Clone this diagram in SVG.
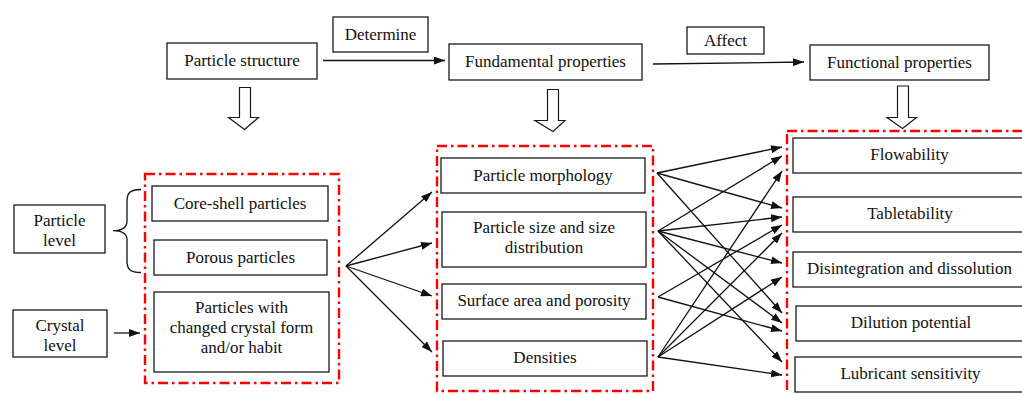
<svg xmlns="http://www.w3.org/2000/svg" width="1022" height="394" viewBox="0 0 1022 394">
<style>
.box{fill:#fff;stroke:#1a1a1a;stroke-width:1.3}
.grp{fill:none;stroke:#ff0000;stroke-width:2.4;stroke-dasharray:10 4 2.5 4}
.t{font-family:"Liberation Serif","Times New Roman",serif;font-size:17px;fill:#111;text-anchor:middle}
.c{stroke:#111;stroke-width:1.3;fill:none}
.ha{fill:#fff;stroke:#1a1a1a;stroke-width:1.2}
</style>
<defs>
<marker id="ah" markerWidth="11" markerHeight="8" refX="11" refY="4" orient="auto" markerUnits="userSpaceOnUse">
<path d="M0,0 L11,4 L0,8 z" fill="#111"/>
</marker>
</defs>
<rect width="1022" height="394" fill="#fff"/>

<g id="groups">
<rect class="grp" x="145" y="174" width="194" height="209"/>
<rect class="grp" x="437" y="146" width="216" height="245"/>
<rect class="grp" x="787" y="131" width="270" height="290"/>
</g>

<g id="n-particle-structure"><rect class="box" x="167" y="43" width="150" height="36"/><text class="t" x="242" y="66">Particle structure</text></g>
<g id="n-determine"><rect class="box" x="333" y="17" width="95" height="35"/><text class="t" x="380.5" y="40">Determine</text></g>
<g id="n-fundamental"><rect class="box" x="449" y="44" width="193" height="36"/><text class="t" x="545.5" y="67">Fundamental properties</text></g>
<g id="n-affect"><rect class="box" x="687" y="27" width="77" height="27"/><text class="t" x="725.5" y="46">Affect</text></g>
<g id="n-functional"><rect class="box" x="810" y="45" width="179" height="35"/><text class="t" x="899.5" y="68">Functional properties</text></g>

<g id="hollow-arrows">
<path class="ha" d="M239.5,87.5 H250.5 V117.5 H258.5 L244.5,129.5 L228.5,117.5 H239.5 Z"/>
<path class="ha" d="M547.5,89.5 H558.5 V120.5 H565 L553,131.5 L535,120.5 H547.5 Z"/>
<path class="ha" d="M897.5,86 H908.5 V117.5 H916.5 L902.5,128.5 L887,117.5 H897.5 Z"/>
</g>

<g id="n-particle-level"><rect class="box" x="14" y="205" width="91" height="48"/><text class="t" x="59.5" y="226">Particle</text><text class="t" x="59.5" y="246">level</text></g>
<g id="n-crystal-level"><rect class="box" x="13" y="310" width="94" height="47"/><text class="t" x="60" y="331">Crystal</text><text class="t" x="60" y="351">level</text></g>
<g id="brace"><path class="c" d="M141,189.5 C130,189.5 127,193 127,201 L127,221 C127,227 123,230.7 113,230.7 C123,230.7 127,234 127,240 L127,261 C127,269 130,272.5 141,272.5"/></g>

<g id="n-core-shell"><rect class="box" x="152" y="186" width="176" height="35"/><text class="t" x="240" y="209">Core-shell particles</text></g>
<g id="n-porous"><rect class="box" x="154" y="240" width="173" height="35"/><text class="t" x="240.5" y="263">Porous particles</text></g>
<g id="n-crystal-form"><rect class="box" x="154" y="292" width="175" height="80"/><text class="t" x="241.5" y="313">Particles with</text><text class="t" x="241.5" y="333">changed crystal form</text><text class="t" x="241.5" y="353">and/or habit</text></g>

<g id="n-morphology"><rect class="box" x="441" y="158" width="204" height="35"/><text class="t" x="543" y="181">Particle morphology</text></g>
<g id="n-size"><rect class="box" x="442" y="212" width="204" height="55"/><text class="t" x="544" y="233">Particle size and size</text><text class="t" x="544" y="253">distribution</text></g>
<g id="n-surface"><rect class="box" x="442" y="284" width="204" height="35"/><text class="t" x="544" y="306">Surface area and porosity</text></g>
<g id="n-densities"><rect class="box" x="443" y="341" width="204" height="35"/><text class="t" x="545" y="363">Densities</text></g>

<g id="n-flowability"><rect class="box" x="793" y="138" width="240" height="35"/><text class="t" x="909.5" y="160">Flowability</text></g>
<g id="n-tabletability"><rect class="box" x="793" y="197" width="240" height="35"/><text class="t" x="910" y="219">Tabletability</text></g>
<g id="n-disintegration"><rect class="box" x="793" y="252" width="240" height="35"/><text class="t" x="909.5" y="274">Disintegration and dissolution</text></g>
<g id="n-dilution"><rect class="box" x="796" y="306" width="237" height="35"/><text class="t" x="911" y="328">Dilution potential</text></g>
<g id="n-lubricant"><rect class="box" x="795" y="357" width="238" height="35"/><text class="t" x="910.5" y="379">Lubricant sensitivity</text></g>

<g id="connectors" class="c" marker-end="url(#ah)">
<line x1="323" y1="60.5" x2="445" y2="60.5" marker-end="url(#ah)"/>
<line x1="653" y1="64" x2="804" y2="62" marker-end="url(#ah)"/>
<line x1="114" y1="333" x2="140" y2="333" marker-end="url(#ah)"/>
<line x1="346" y1="266" x2="432" y2="192" marker-end="url(#ah)"/>
<line x1="346" y1="266" x2="432" y2="243" marker-end="url(#ah)"/>
<line x1="346" y1="266" x2="432" y2="296" marker-end="url(#ah)"/>
<line x1="346" y1="266" x2="432" y2="352" marker-end="url(#ah)"/>
<line x1="657" y1="173" x2="782" y2="147" marker-end="url(#ah)"/>
<line x1="657" y1="173" x2="782" y2="208" marker-end="url(#ah)"/>
<line x1="657" y1="173" x2="782" y2="313" marker-end="url(#ah)"/>
<line x1="658" y1="231" x2="782" y2="156" marker-end="url(#ah)"/>
<line x1="658" y1="231" x2="782" y2="217" marker-end="url(#ah)"/>
<line x1="658" y1="231" x2="782" y2="263" marker-end="url(#ah)"/>
<line x1="658" y1="231" x2="782" y2="323" marker-end="url(#ah)"/>
<line x1="658" y1="231" x2="782" y2="362" marker-end="url(#ah)"/>
<line x1="658" y1="297" x2="782" y2="225" marker-end="url(#ah)"/>
<line x1="658" y1="297" x2="782" y2="331" marker-end="url(#ah)"/>
<line x1="658" y1="357" x2="782" y2="171" marker-end="url(#ah)"/>
<line x1="658" y1="357" x2="782" y2="233" marker-end="url(#ah)"/>
<line x1="658" y1="357" x2="782" y2="277" marker-end="url(#ah)"/>
<line x1="658" y1="357" x2="782" y2="375" marker-end="url(#ah)"/>
</g>
</svg>
